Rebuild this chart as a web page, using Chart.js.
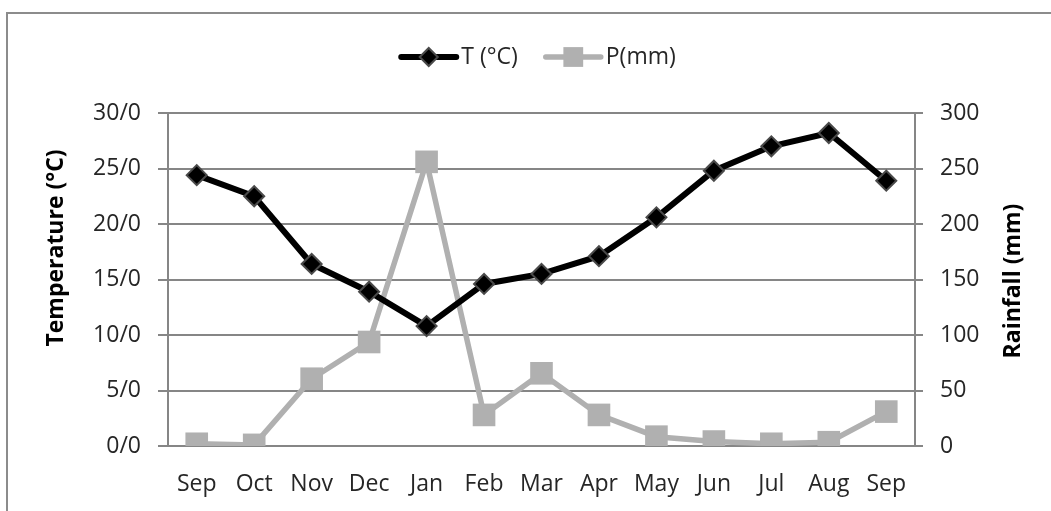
<!DOCTYPE html>
<html>
<head>
<meta charset="utf-8">
<script src="https://cdn.jsdelivr.net/npm/chart.js@4/dist/chart.umd.min.js"></script>
<style>
  html, body { margin: 0; padding: 0; background: #fff; }
  .frame { position: absolute; left: 6px; top: 12px; width: 1100px; height: 600px;
           border-left: 2px solid #8c8c8c; border-top: 2px solid #8c8c8c; }
  .wrap { position: absolute; left: 0; top: 0; width: 1051px; height: 511px; }
</style>
</head>
<body>
<div class="frame"></div>
<div class="wrap"><canvas id="graph"></canvas></div>
<script>
const months = ['Sep', 'Oct', 'Nov', 'Dec', 'Jan', 'Feb', 'Mar', 'Apr', 'May', 'Jun', 'Jul', 'Aug', 'Sep'];
const temperature = [24.4, 22.5, 16.4, 13.9, 10.8, 14.6, 15.5, 17.1, 20.6, 24.8, 27.0, 28.2, 23.9];
const rainfall = [2, 1, 60.6, 93.7, 256, 28, 65.5, 28, 8.4, 4, 2, 3.4, 31];
const tempTicks = [0, 5, 10, 15, 20, 25, 30];
const rainTicks = [0, 50, 100, 150, 200, 250, 300];

const FONT = '"Open Sans", Lato, sans-serif';
const GRID = '#868686';
const TEXT = '#262626';

// legend + rotated axis titles drawn by hand (Excel style)
const extras = {
  id: 'extras',
  afterDraw(chart) {
    const ctx = chart.ctx;
    const area = chart.chartArea;
    ctx.save();
    ctx.font = '23px ' + FONT;
    ctx.textBaseline = 'middle';
    const items = chart.data.datasets.map(ds => ({ ds, w: ctx.measureText(ds.label).width }));
    const lineLen = 59, gap = 3, itemGap = 26;
    let total = 0;
    items.forEach((it, i) => { total += lineLen + gap + it.w + (i ? itemGap : 0); });
    let x = (area.left + area.right) / 2 - 4 - total / 2;
    const y = 57;
    items.forEach(it => {
      const ds = it.ds;
      ctx.strokeStyle = ds.borderColor;
      ctx.lineWidth = ds.borderWidth;
      ctx.lineCap = 'round';
      ctx.beginPath();
      ctx.moveTo(x + 2, y);
      ctx.lineTo(x + lineLen - 2, y);
      ctx.stroke();
      ctx.fillStyle = ds.pointBackgroundColor;
      ctx.strokeStyle = ds.pointBorderColor;
      ctx.lineWidth = ds.pointBorderWidth;
      Chart.helpers.drawPoint(ctx, {
        pointStyle: ds.pointStyle,
        radius: ds.pointStyle === 'rect' ? 14 : 9,
        borderWidth: ds.pointBorderWidth,
        rotation: 0
      }, x + lineLen / 2, y);
      ctx.fillStyle = TEXT;
      ctx.textAlign = 'left';
      ctx.fillText(ds.label, x + lineLen + gap, y);
      x += lineLen + gap + it.w + itemGap;
    });

    ctx.font = 'bold 23px ' + FONT;
    ctx.fillStyle = '#000';
    ctx.textAlign = 'center';
    ctx.save();
    ctx.translate(56, 248);
    ctx.rotate(-Math.PI / 2);
    ctx.fillText('Temperature (°C)', 0, 0);
    ctx.restore();
    ctx.save();
    ctx.translate(1013, 281);
    ctx.rotate(-Math.PI / 2);
    ctx.fillText('Rainfall (mm)', 0, 0);
    ctx.restore();
    ctx.restore();
  }
};

new Chart(document.getElementById('graph'), {
  type: 'line',
  plugins: [extras],
  data: {
    labels: months,
    datasets: [
      {
        label: 'T (°C)',
        data: temperature,
        yAxisID: 'yT',
        borderColor: '#000',
        borderWidth: 6,
        pointStyle: 'rectRot',
        pointRadius: 10,
        pointBackgroundColor: '#000',
        pointBorderColor: '#4a4a4a',
        pointBorderWidth: 2,
        tension: 0,
        order: 1
      },
      {
        label: 'P(mm)',
        data: rainfall,
        yAxisID: 'yP',
        borderColor: '#b0b0b0',
        borderWidth: 5.5,
        pointStyle: 'rect',
        pointRadius: 16,
        pointBackgroundColor: '#b0b0b0',
        pointBorderColor: '#b0b0b0',
        pointBorderWidth: 0,
        tension: 0,
        order: 2
      }
    ]
  },
  options: {
    responsive: true,
    maintainAspectRatio: false,
    animation: false,
    layout: { padding: { top: 113, left: 0, right: 0, bottom: 0 } },
    plugins: { legend: { display: false }, tooltip: { enabled: false } },
    scales: {
      x: {
        offset: true,
        grid: { display: false },
        border: { display: false },
        ticks: { font: { family: FONT, size: 23 }, color: TEXT, padding: 17, maxRotation: 0, autoSkip: false },
        afterFit: s => { s.height = 65; }
      },
      yT: {
        position: 'left',
        min: 0, max: 30,
        afterBuildTicks: s => { s.ticks = tempTicks.map(v => ({ value: v })); },
        grid: { color: GRID, lineWidth: 2, tickLength: 10 },
        border: { color: GRID, width: 2 },
        ticks: { font: { family: FONT, size: 23 }, color: TEXT, padding: 17, callback: v => v + '/0' },
        afterFit: s => { s.width = 168; }
      },
      yP: {
        position: 'right',
        min: 0, max: 300,
        afterBuildTicks: s => { s.ticks = rainTicks.map(v => ({ value: v })); },
        grid: { drawOnChartArea: false, color: GRID, lineWidth: 2, tickLength: 8 },
        border: { color: GRID, width: 2 },
        ticks: { font: { family: FONT, size: 23 }, color: TEXT, padding: 17 },
        afterFit: s => { s.width = 136; }
      }
    }
  }
});
</script>
</body>
</html>
